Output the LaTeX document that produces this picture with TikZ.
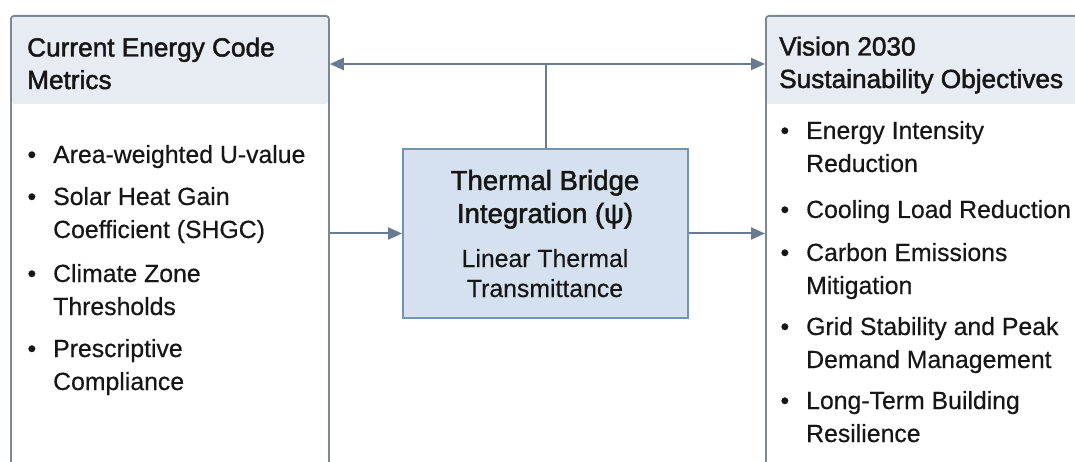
\documentclass[tikz,border=0pt]{standalone}
\usepackage{fontspec}
\setmainfont{Liberation Sans}[FakeBold=0.4]
\newfontfamily\bodyfont[FakeBold=0.4]{Liberation Sans}
\newfontfamily\hdrfont[FakeBold=1.8]{Liberation Sans}
\usetikzlibrary{arrows.meta,calc}
\definecolor{edge}{HTML}{7A8796}
\definecolor{hdr}{HTML}{E7ECF3}
\definecolor{arr}{HTML}{687B90}
\definecolor{cfill}{HTML}{D5E1EE}
\definecolor{cedge}{HTML}{7492B2}
\definecolor{ink}{HTML}{161616}
\begin{document}
\begin{tikzpicture}[x=1pt,y=-1pt,
  sidebox/.style={draw=edge, line width=1.8pt, fill=white, rounded corners=3pt,
    anchor=north west, inner sep=0pt,
    path picture={\fill[hdr] (path picture bounding box.north west) rectangle ([yshift=-88pt]path picture bounding box.north east);}},
  centerbox/.style={draw=cedge, line width=1.8pt, fill=cfill, inner sep=0pt,
    minimum width=285pt, minimum height=169pt},
  hdrtext/.style={anchor=base west, inner sep=0pt, text=ink, align=left,
    font=\hdrfont\fontsize{26.2}{32.5}\selectfont},
  itemtext/.style={anchor=base west, inner sep=0pt, text=ink, align=left,
    font=\bodyfont\fontsize{24.8}{33}\selectfont},
  ctitle/.style={anchor=base, inner sep=0pt, text=ink, align=center,
    font=\hdrfont\fontsize{27.6}{33}\selectfont},
  csub/.style={anchor=base, inner sep=0pt, text=ink, align=center,
    font=\bodyfont\fontsize{24.8}{30}\selectfont},
  conn/.style={draw=arr, line width=2pt},
  tip/.style={-{Triangle[length=14pt,width=12pt]}},
  tips/.style={{Triangle[length=14pt,width=12pt]}-{Triangle[length=14pt,width=12pt]}}
]
\useasboundingbox (0,0) rectangle (1075,462);
\clip (0,0) rectangle (1075,462);
\fill[white] (0,0) rectangle (1075,462);

% boxes
\node[sidebox, minimum width=318pt, minimum height=500pt] (L) at (10,15) {};
\node[sidebox, minimum width=400pt, minimum height=500pt] (R) at (765,15) {};
\node[centerbox] (C) at (545.5,233.5) {};

% connectors
\coordinate (TL) at ($(L.north east)+(0,49)$);
\coordinate (TR) at ($(R.north west)+(0,49)$);
\draw[conn, tips] (TL) -- (TR);
\draw[conn] (C.north) -- (C.north |- TL);
\draw[conn, tip] (L.east |- C.west) -- (C.west);
\draw[conn, tip] (C.east) -- (R.west |- C.east);

% left box text (anchors at the baseline of the last line)
\node[hdrtext] (Lh) at (27,89) {Current Energy Code\\Metrics};
\node[itemtext] (L1) at (53,163) {\llap{•\hspace{17pt}}Area-weighted U-value};
\node[itemtext] (L2) at (53,238) {\llap{•\hspace{17pt}}Solar Heat Gain\\Coefficient (SHGC)};
\node[itemtext] (L3) at (53,315) {\llap{•\hspace{17pt}}Climate Zone\\Thresholds};
\node[itemtext] (L4) at (53,390) {\llap{•\hspace{17pt}}Prescriptive\\Compliance};

% right box text
\node[hdrtext] (Rh) at (779,88) {Vision 2030\\Sustainability Objectives};
\node[itemtext] (R1) at (806,172) {\llap{•\hspace{17pt}}Energy Intensity\\Reduction};
\node[itemtext] (R2) at (806,218) {\llap{•\hspace{17pt}}Cooling Load Reduction};
\node[itemtext] (R3) at (806,294) {\llap{•\hspace{17pt}}Carbon Emissions\\Mitigation};
\node[itemtext] (R4) at (806,368) {\llap{•\hspace{17pt}}Grid Stability and Peak\\Demand Management};
\node[itemtext] (R5) at (806,442) {\llap{•\hspace{17pt}}Long-Term Building\\Resilience};

% center text
\node[ctitle] (Ct) at (545,223) {Thermal Bridge\\Integration (ψ)};
\node[csub] (Cs) at (545,297) {Linear Thermal\\Transmittance};
\end{tikzpicture}
\end{document}
